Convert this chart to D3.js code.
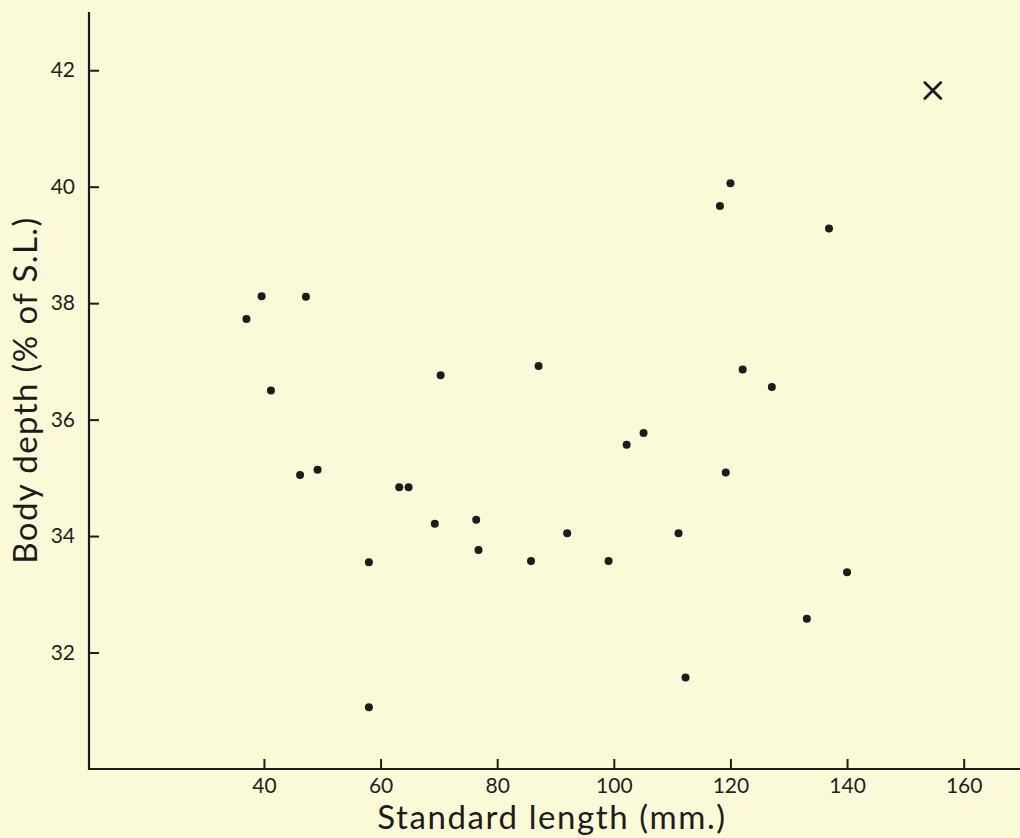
<!DOCTYPE html>
<html>
<head>
<meta charset="utf-8">
<script src="https://cdn.jsdelivr.net/npm/d3@7"></script>
<style>
  html, body { margin: 0; padding: 0; background: #fafad8; }
  svg { display: block; }
  .axis text { font-family: Lato, "Open Sans", sans-serif; fill: #231f20; }
</style>
</head>
<body>
<div id="chart"></div>
<script>
// standard length (mm) and body depth (% of S.L.)
var lengths = [37.0, 39.6, 47.2, 41.2, 46.2, 49.2, 58.0, 58.0, 63.2, 64.8,
               69.3, 70.3, 76.4, 76.8, 85.8, 87.1, 92.0, 99.1, 102.2, 105.1,
               111.1, 112.3, 118.2, 120.0, 119.2, 122.1, 127.1, 133.1, 136.9, 140.0];
var depths  = [37.73, 38.12, 38.11, 36.50, 35.05, 35.14, 33.55, 31.06, 34.84, 34.84,
               34.21, 36.76, 34.28, 33.76, 33.57, 36.92, 34.05, 33.57, 35.57, 35.77,
               34.05, 31.57, 39.67, 40.06, 35.09, 36.86, 36.56, 32.58, 39.28, 33.38];
// the single point marked with a cross
var crossLength = [154.7];
var crossDepth  = [41.65];

var xTicks = [40, 60, 80, 100, 120, 140, 160];
var yTicks = [32, 34, 36, 38, 40, 42];

var width = 1020, height = 838;
var ink = "#1f1b1c";

var svg = d3.select("#chart").append("svg")
    .attr("width", width)
    .attr("height", height);

var x = d3.scaleLinear().domain([10, 170]).range([89, 1022]);
var y = d3.scaleLinear().domain([30, 43]).range([769, 12]);

// y axis, ticks pointing inward
var yAxis = d3.axisLeft(y).tickValues(yTicks).tickSize(-10).tickPadding(14);
var gy = svg.append("g")
    .attr("class", "axis")
    .attr("transform", "translate(" + x(10) + ",0)")
    .call(yAxis);
gy.select(".domain").remove();
gy.append("line")
    .attr("x1", 0).attr("x2", 0)
    .attr("y1", y(43)).attr("y2", y(30) + 1)
    .attr("stroke", ink).attr("stroke-width", 2.2);
gy.selectAll(".tick line").attr("stroke", ink).attr("stroke-width", 2);
gy.selectAll(".tick text").style("font-size", "21px");

// x axis, ticks pointing upward
var xAxis = d3.axisBottom(x).tickValues(xTicks).tickSize(-10).tickPadding(9);
var gx = svg.append("g")
    .attr("class", "axis")
    .attr("transform", "translate(0," + y(30) + ")")
    .call(xAxis);
gx.select(".domain").remove();
gx.append("line")
    .attr("x1", x(10) - 1).attr("x2", width)
    .attr("y1", 0).attr("y2", 0)
    .attr("stroke", ink).attr("stroke-width", 2.2);
gx.selectAll(".tick line").attr("stroke", ink).attr("stroke-width", 2);
gx.selectAll(".tick text").style("font-size", "21px");

// axis titles
svg.append("text")
    .attr("x", 552)
    .attr("y", 829)
    .attr("text-anchor", "middle")
    .style("font-family", "Lato, 'Open Sans', sans-serif")
    .style("font-size", "33px")
    .style("letter-spacing", "1.6px")
    .attr("fill", ink)
    .text("Standard length (mm.)");

svg.append("text")
    .attr("transform", "translate(37,390) rotate(-90)")
    .attr("text-anchor", "middle")
    .style("font-family", "Lato, 'Open Sans', sans-serif")
    .style("font-size", "33px")
    .style("letter-spacing", "1.4px")
    .attr("fill", ink)
    .text("Body depth (% of S.L.)");

// points
var pts = lengths.map(function (d, i) { return { len: d, dep: depths[i] }; });
svg.append("g").selectAll("circle")
    .data(pts)
    .enter().append("circle")
    .attr("cx", function (d) { return x(d.len); })
    .attr("cy", function (d) { return y(d.dep); })
    .attr("r", 4)
    .attr("fill", ink);

// cross marker
var crosses = crossLength.map(function (d, i) { return { len: d, dep: crossDepth[i] }; });
svg.append("g").selectAll("path")
    .data(crosses)
    .enter().append("path")
    .attr("transform", function (d) { return "translate(" + x(d.len) + "," + y(d.dep) + ")"; })
    .attr("d", "M-8,-8L8,8M-8,8L8,-8")
    .attr("stroke", ink)
    .attr("stroke-width", 2.8)
    .attr("stroke-linecap", "round")
    .attr("fill", "none");
</script>
</body>
</html>
